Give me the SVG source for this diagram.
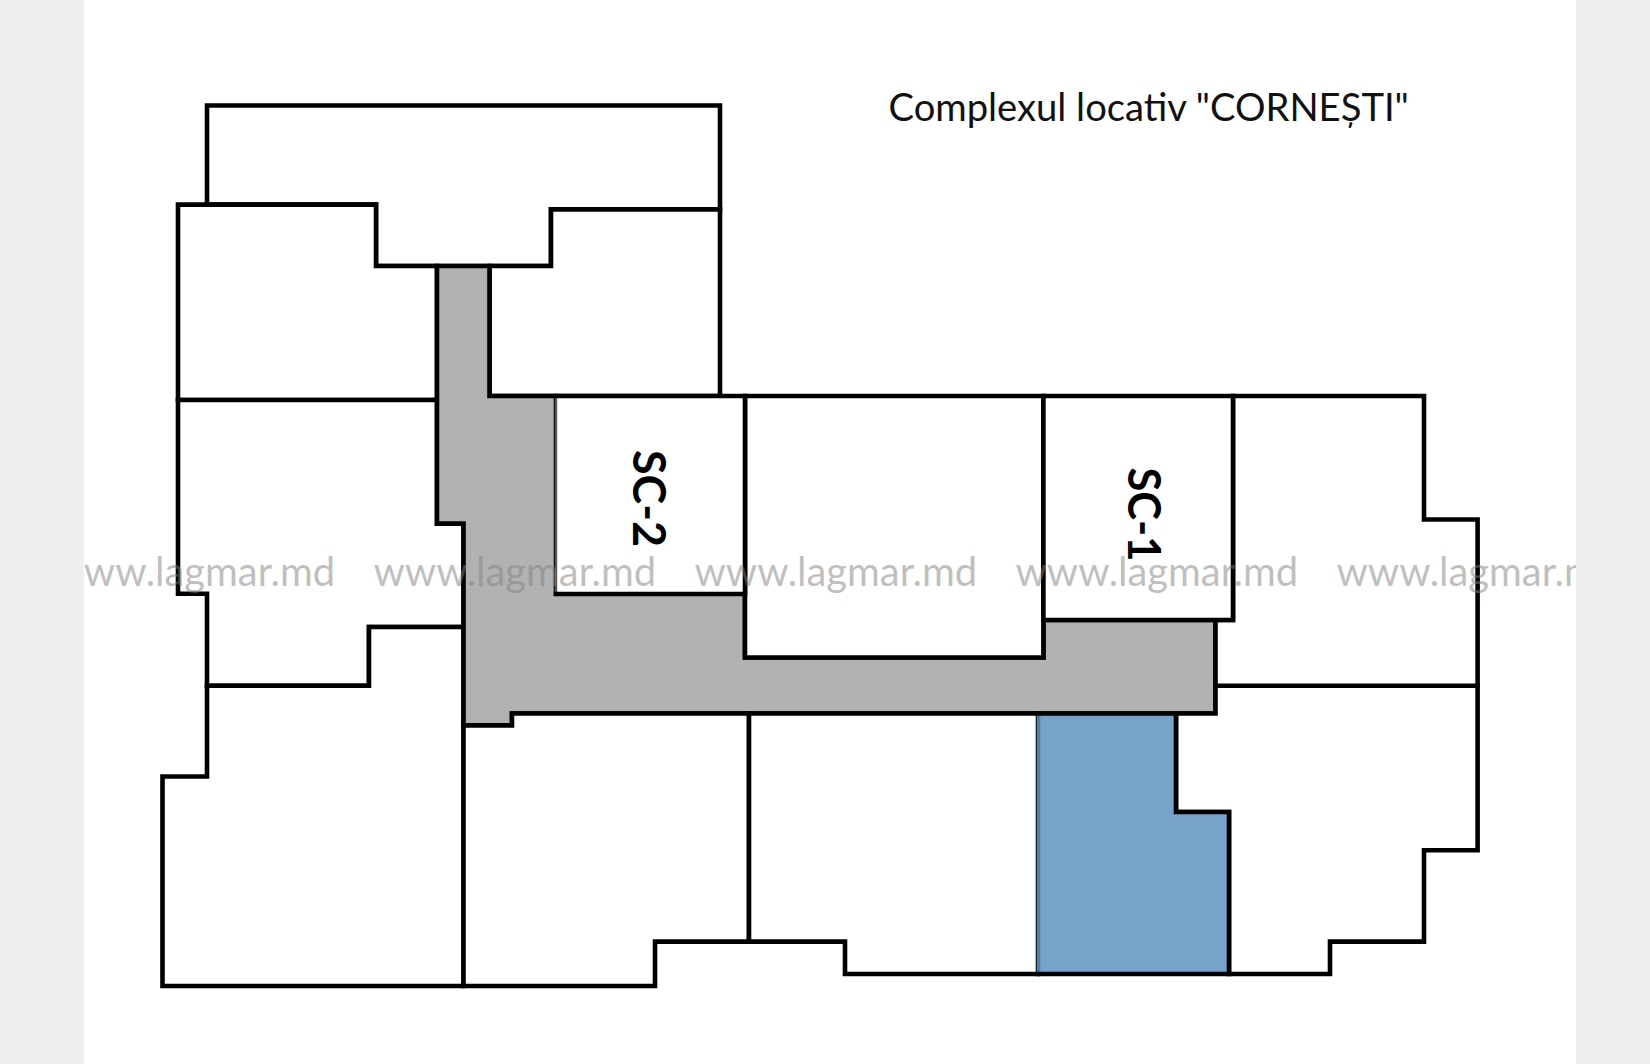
<svg xmlns="http://www.w3.org/2000/svg" width="1650" height="1064" viewBox="0 0 1650 1064">
<style>
.u{fill:#fff;stroke:#000;stroke-width:4.6;stroke-linejoin:miter}
.o{fill:none;stroke:#000;stroke-width:4.6;stroke-linecap:square}
.t{font-family:"Lato","Liberation Sans",sans-serif;fill:#111}
.sc{font-family:"Lato","Liberation Sans",sans-serif;fill:#000;font-size:45px;font-weight:700}
.w{font-family:"Lato","Liberation Sans",sans-serif;fill:#808080;fill-opacity:.5;font-size:39.9px}
.b{fill:#eee}
</style>
<rect width="1650" height="1064" fill="#fff"/>
<g id="unit-top"><polygon class="u" points="207,204.6 207,105.5 720,105.5 720,209.4 551,209.4 551,266 376,266 376,204.6"/></g>
<g id="unit-left-upper"><polygon class="u" points="178,204.6 376,204.6 376,266 437,266 437,400 178,400"/></g>
<g id="unit-north"><polygon class="u" points="489.5,266 551,266 551,209.4 720,209.4 720,396 489.5,396"/></g>
<g id="unit-left-mid"><polygon class="u" points="178,400 437,400 437,523.6 463.5,523.6 463.5,627 369,627 369,685.7 207,685.7 207,593.8 178,593.8"/></g>
<g id="unit-left-lower"><polygon class="u" points="207,685.7 369,685.7 369,627 463.5,627 463.5,986 162.5,986 162.5,776.5 207,776.5"/></g>
<g id="corridor"><polygon points="437,266 489.5,266 489.5,396 556,396 556,593.8 745,593.8 745,657.5 1043.4,657.5 1043.4,620 1215.5,620 1215.5,713.5 512,713.5 512,725.4 463.5,725.4 463.5,523.6 437,523.6" fill="#b2b2b2" stroke="#000" stroke-width="4.6"/></g>
<g id="unit-south-2"><polygon class="u" points="463.5,725.4 512,725.4 512,713.5 749,713.5 749,941.6 655,941.6 655,986 463.5,986"/></g>
<g id="unit-south-3"><polygon class="u" points="749,713.5 1038,713.5 1038,974 845,974 845,941.6 749,941.6"/></g>
<g id="unit-south-east"><polygon class="u" points="1176,713.5 1215.5,713.5 1215.5,685.7 1477.6,685.7 1477.6,850.3 1424,850.3 1424,941.6 1330,941.6 1330,974 1229,974 1229,812 1176,812"/></g>
<g id="unit-east"><polygon class="u" points="1233,396 1424,396 1424,519.5 1477.6,519.5 1477.6,685.7 1215.5,685.7 1215.5,620 1233,620"/></g>
<g id="unit-selected"><polygon points="1038,713.5 1176,713.5 1176,812 1229,812 1229,974 1038,974" fill="#77a3cb"/>
<path d="M1038.5,713V973" fill="none" stroke="#4f7ba5" stroke-width="3.6"/>
<path class="o" d="M1038,713.5H1176V812H1229V974H1038"/></g>
<g id="unit-centre"><polygon class="u" points="745,396 1043.4,396 1043.4,657.5 745,657.5"/></g>
<g id="stair-1"><polygon class="u" points="1043.4,396 1233,396 1233,620 1043.4,620"/>
<text class="sc" transform="translate(1128,467.5) rotate(90)" textLength="94" lengthAdjust="spacingAndGlyphs">SC-1</text></g>
<g id="stair-2"><rect x="556" y="396" width="189" height="198" fill="#fff"/>
<path d="M556,396V594" fill="none" stroke="#555" stroke-width="2.4"/>
<path class="o" d="M556,396H745V594H556"/>
<text class="sc" transform="translate(633,450) rotate(90)" textLength="97" lengthAdjust="spacingAndGlyphs">SC-2</text></g>
<text id="title" class="t" x="888.5" y="121" font-size="38.2">Complexul locativ "CORNEȘTI"</text>
<g id="watermark">
<text class="w" x="52.5" y="585.5">www.lagmar.md</text>
<text class="w" x="373.5" y="585.5">www.lagmar.md</text>
<text class="w" x="694.5" y="585.5">www.lagmar.md</text>
<text class="w" x="1015.5" y="585.5">www.lagmar.md</text>
<text class="w" x="1336.5" y="585.5">www.lagmar.md</text>
</g>
<rect class="b" x="0" y="0" width="84" height="1064"/>
<rect class="b" x="1576" y="0" width="74" height="1064"/>
</svg>
